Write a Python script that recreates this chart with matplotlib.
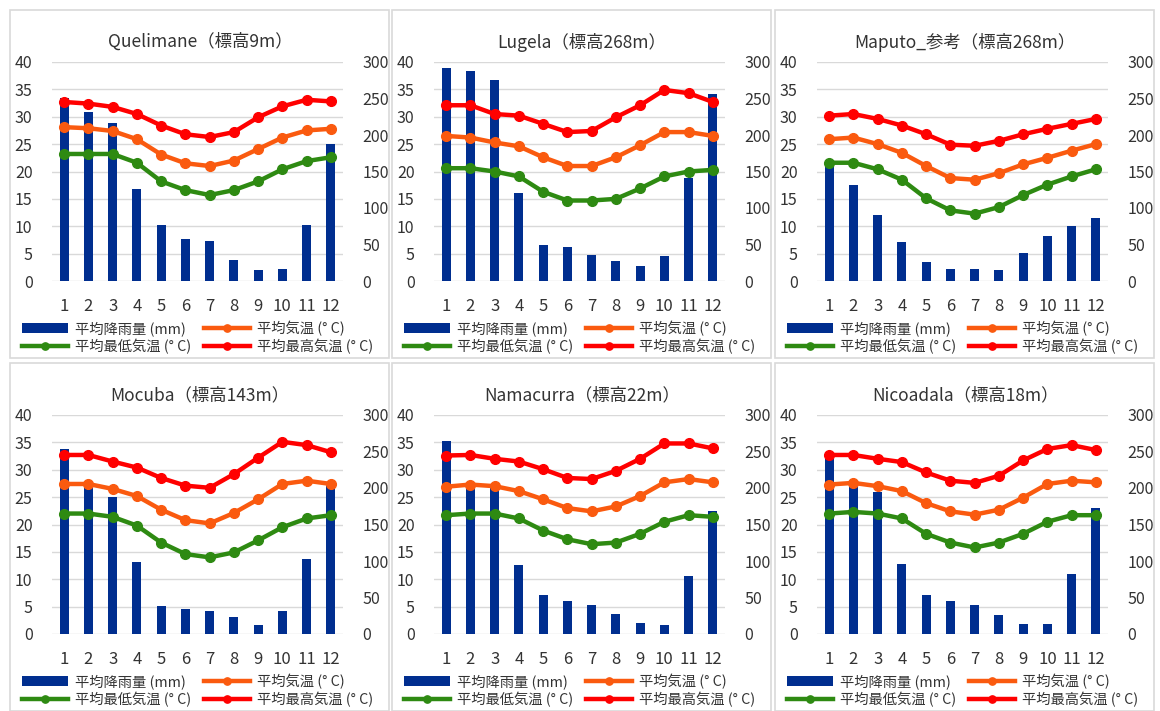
import matplotlib
matplotlib.use("Agg")
import matplotlib.pyplot as plt
from matplotlib.patches import Rectangle

plt.rcParams['font.family'] = ['Noto Sans CJK JP', 'DejaVu Sans']

months = [1, 2, 3, 4, 5, 6, 7, 8, 9, 10, 11, 12]

titles = ["Quelimane（標高9m）", "Lugela（標高268m）", "Maputo_参考（標高268m）",
          "Mocuba（標高143m）", "Namacurra（標高22m）", "Nicoadala（標高18m）"]

# rainfall (mm)
rain_quelimane = [250, 231, 217, 126, 77, 57, 55, 29, 15, 17, 77, 187]
rain_lugela = [292, 287, 275, 120, 50, 46, 36, 27, 20, 34, 141, 256]
rain_maputo = [161, 131, 91, 54, 26, 17, 17, 15, 38, 61, 75, 86]
rain_mocuba = [253, 204, 188, 99, 38, 34, 31, 23, 12, 31, 103, 206]
rain_namacurra = [265, 205, 200, 94, 54, 45, 40, 28, 15, 12, 80, 168]
rain_nicoadala = [240, 205, 195, 96, 54, 45, 40, 26, 14, 14, 82, 173]

# mean temperature
tavg_quelimane = [28.1, 27.9, 27.4, 25.9, 23.1, 21.5, 21.0, 22.0, 24.1, 26.2, 27.5, 27.8]
tavg_lugela = [26.5, 26.2, 25.3, 24.6, 22.6, 21.0, 21.0, 22.6, 24.8, 27.2, 27.2, 26.5]
tavg_maputo = [25.9, 26.2, 25.0, 23.4, 21.0, 18.8, 18.5, 19.7, 21.3, 22.5, 23.8, 25.0]
tavg_mocuba = [27.4, 27.4, 26.5, 25.2, 22.7, 20.8, 20.2, 22.1, 24.6, 27.4, 28.0, 27.4]
tavg_namacurra = [26.9, 27.3, 27.0, 26.1, 24.6, 23.0, 22.4, 23.3, 25.2, 27.7, 28.3, 27.7]
tavg_nicoadala = [27.3, 27.6, 27.0, 26.1, 23.9, 22.4, 21.8, 22.7, 24.9, 27.4, 28.0, 27.7]

# mean minimum temperature
tmin_quelimane = [23.2, 23.2, 23.2, 21.6, 18.2, 16.6, 15.7, 16.6, 18.2, 20.4, 21.9, 22.6]
tmin_lugela = [20.6, 20.6, 20.0, 19.1, 16.3, 14.7, 14.7, 15.0, 16.9, 19.1, 20.0, 20.3]
tmin_maputo = [21.6, 21.6, 20.4, 18.5, 15.1, 12.9, 12.3, 13.5, 15.7, 17.6, 19.1, 20.4]
tmin_mocuba = [22.0, 22.0, 21.4, 19.8, 16.7, 14.6, 14.0, 14.9, 17.1, 19.5, 21.1, 21.7]
tmin_namacurra = [21.7, 22.0, 22.0, 21.1, 18.9, 17.3, 16.4, 16.7, 18.3, 20.5, 21.7, 21.4]
tmin_nicoadala = [22.0, 22.3, 22.0, 21.1, 18.3, 16.7, 15.8, 16.7, 18.3, 20.5, 21.7, 21.7]

# mean maximum temperature
tmax_quelimane = [32.7, 32.4, 31.8, 30.5, 28.4, 26.8, 26.3, 27.2, 29.9, 31.9, 33.1, 32.8]
tmax_lugela = [32.1, 32.1, 30.5, 30.2, 28.7, 27.2, 27.4, 29.9, 32.1, 34.9, 34.3, 32.7]
tmax_maputo = [30.2, 30.5, 29.6, 28.4, 26.8, 24.9, 24.7, 25.6, 26.8, 27.8, 28.7, 29.6]
tmax_mocuba = [32.7, 32.7, 31.5, 30.4, 28.5, 27.1, 26.7, 29.2, 32.2, 35.1, 34.5, 33.2]
tmax_namacurra = [32.6, 32.7, 32.0, 31.5, 30.1, 28.5, 28.3, 29.8, 32.0, 34.8, 34.8, 33.9]
tmax_nicoadala = [32.7, 32.7, 32.0, 31.4, 29.5, 28.0, 27.6, 28.9, 31.7, 33.8, 34.5, 33.6]

rains = [rain_quelimane, rain_lugela, rain_maputo, rain_mocuba, rain_namacurra, rain_nicoadala]
tavgs = [tavg_quelimane, tavg_lugela, tavg_maputo, tavg_mocuba, tavg_namacurra, tavg_nicoadala]
tmins = [tmin_quelimane, tmin_lugela, tmin_maputo, tmin_mocuba, tmin_namacurra, tmin_nicoadala]
tmaxs = [tmax_quelimane, tmax_lugela, tmax_maputo, tmax_mocuba, tmax_namacurra, tmax_nicoadala]

BLUE = '#002E8F'
ORANGE = '#FA5A0F'
GREEN = '#2E8A12'
RED = '#FF0000'
GRID = '#D9D9D9'
TXT = '#333333'

W, H = 1160, 711
fig = plt.figure(figsize=(W / 100, H / 100), dpi=100)

col_x = [10, 392, 775]
row_y = [10, 363]

for i in range(6):
    x0 = col_x[i % 3]
    y0 = row_y[i // 3]

    # panel frame
    fig.patches.append(Rectangle((x0 / W, 1 - (y0 + 348) / H), 379 / W, 348 / H,
                                 transform=fig.transFigure, fill=False,
                                 edgecolor='#D9D9D9', linewidth=1.2))

    left = x0 + 42
    top = y0 + 52
    ax_r = fig.add_axes([left / W, 1 - (top + 219) / H, 291 / W, 219 / H])
    ax_t = ax_r.twinx()

    for t in range(0, 41, 5):
        ax_r.axhline(t * 7.5, color=GRID, lw=1, zorder=0)

    b = ax_r.bar(months, rains[i], width=0.38, color=BLUE, zorder=2)
    l_min, = ax_t.plot(months, tmins[i], color=GREEN, lw=3.2, marker='o', ms=7)
    l_avg, = ax_t.plot(months, tavgs[i], color=ORANGE, lw=3.2, marker='o', ms=7)
    l_max, = ax_t.plot(months, tmaxs[i], color=RED, lw=3.2, marker='o', ms=7)

    ax_r.set_ylim(0, 300)
    ax_t.set_ylim(0, 40)
    ax_r.set_xlim(0.5, 12.5)
    ax_r.set_yticks(range(0, 301, 50))
    ax_t.set_yticks(range(0, 41, 5))
    ax_r.set_xticks(months)
    ax_r.yaxis.tick_right()
    ax_t.yaxis.tick_left()
    for a in (ax_r, ax_t):
        for s in a.spines.values():
            s.set_visible(False)
        a.tick_params(length=0, labelsize=11.5, colors=TXT)
    ax_r.tick_params(axis='x', pad=12, labelsize=12)
    ax_r.tick_params(axis='y', pad=14)
    ax_t.tick_params(axis='y', pad=14)

    fig.text((x0 + 190) / W, 1 - (y0 + 32) / H, titles[i], ha='center', va='center',
             fontsize=12.5, color=TXT)

    fig.legend([b, l_min, l_avg, l_max],
               ['平均降雨量 (mm)', '平均最低気温 (° C)', '平均気温 (° C)', '平均最高気温 (° C)'],
               ncol=2, loc='upper left',
               bbox_to_anchor=((x0 + 2) / W, 1 - (y0 + 301) / H),
               frameon=False, fontsize=10.3, handlelength=3.2, handletextpad=0.5,
               columnspacing=0.9, labelspacing=0.2, borderpad=0.2,
               markerscale=0.75, labelcolor=TXT)

fig.savefig('out.png', dpi=100)
